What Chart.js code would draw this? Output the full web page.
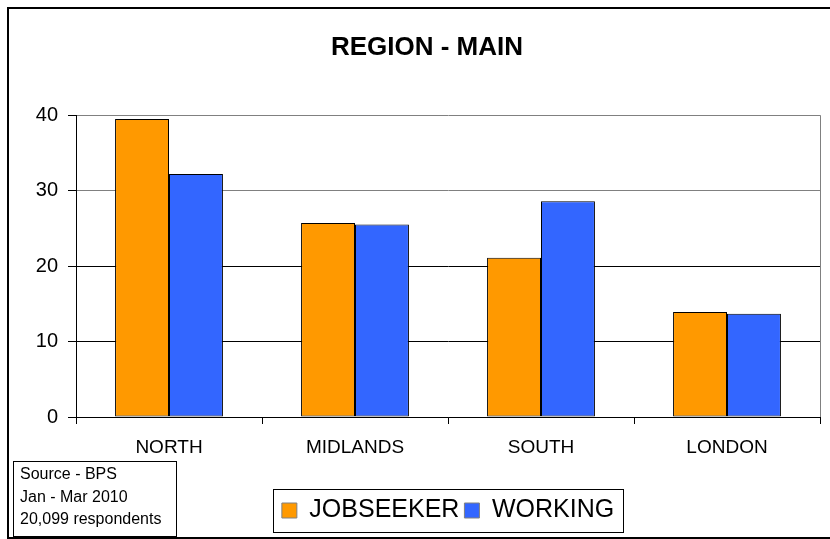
<!DOCTYPE html>
<html>
<head>
<meta charset="utf-8">
<script src="https://cdn.jsdelivr.net/npm/chart.js@4.4.1/dist/chart.umd.min.js"></script>
<style>
  body { margin: 0; background: #fff; overflow: hidden; }
  #wrap { position: relative; width: 830px; height: 539px; }
  #frame { position: absolute; left: 7px; top: 7px; width: 840px; height: 528px; border: 2px solid #000; }
  #chart { position: absolute; left: 0; top: 0; }
  #source { position: absolute; left: 13px; top: 461px; width: 156px; height: 73px; border: 1.5px solid #000;
    font-family: "Liberation Sans", Arial, sans-serif; font-size: 16px; line-height: 22.5px; padding: 1px 0 0 6px; box-sizing: content-box; }
</style>
</head>
<body>
<div id="wrap">
  <div id="frame"></div>
  <canvas id="chart" width="830" height="539"></canvas>
  <div id="source">Source - BPS<br>Jan - Mar 2010<br>20,099 respondents</div>
</div>
<script>
var REGIONS = ['NORTH', 'MIDLANDS', 'SOUTH', 'LONDON'];
var JOBSEEKER = [39.5, 25.7, 21.1, 13.9];
var WORKING = [32.2, 25.5, 28.6, 13.7];
var Y_TICKS = [0, 10, 20, 30, 40];

var FONT = '"Liberation Sans", Arial, sans-serif';

// right edge of plot + box round the legend
var framePlugin = {
	id: 'frames',
	afterDraw: function(chart) {
		var ctx = chart.ctx;
		var area = chart.chartArea;
		ctx.save();
		ctx.strokeStyle = '#808080';
		ctx.lineWidth = 1;
		ctx.beginPath();
		ctx.moveTo(area.right + 0.5, area.top);
		ctx.lineTo(area.right + 0.5, area.bottom);
		ctx.stroke();

		var boxes = chart.legend.legendHitBoxes;
		if (boxes && boxes.length) {
			var first = boxes[0], last = boxes[boxes.length - 1];
			var left = first.left - 9, right = last.left + last.width + 9;
			var top = first.top - 9, bottom = first.top + first.height + 9;
			ctx.strokeStyle = '#000';
			ctx.strokeRect(Math.round(left) + 0.5, Math.round(top) + 0.5, Math.round(right - left), Math.round(bottom - top));
		}
		ctx.restore();
	}
};

function createDataset(label, data, color) {
	return {
		label: label,
		data: data,
		backgroundColor: color,
		borderColor: '#000',
		borderWidth: 1,
		borderSkipped: false,
		categoryPercentage: 0.58,
		barPercentage: 1.0
	};
}

var ctx = document.getElementById('chart').getContext('2d');
var chart = new Chart(ctx, {
	type: 'bar',
	data: {
		labels: REGIONS,
		datasets: [
			createDataset('JOBSEEKER', JOBSEEKER, '#FF9900'),
			createDataset('WORKING', WORKING, '#3366FF')
		]
	},
	options: {
		responsive: false,
		animation: false,
		devicePixelRatio: 1,
		layout: { padding: { left: 34, right: 10, top: 0, bottom: 6 } },
		plugins: {
			title: {
				display: true,
				text: 'REGION - MAIN',
				color: '#000',
				font: { family: FONT, size: 26, weight: 'bold' },
				padding: { top: 32, bottom: 52 }
			},
			legend: {
				position: 'bottom',
				fullSize: false,
				labels: {
					color: '#000',
					font: { family: FONT, size: 25 },
					boxWidth: 15,
					boxHeight: 15,
					padding: 5,
					generateLabels: function(chart) {
						return chart.data.datasets.map(function(ds, i) {
							return {
								text: ds.label,
								fillStyle: ds.backgroundColor,
								strokeStyle: '#808080',
								lineWidth: 1,
								datasetIndex: i
							};
						});
					}
				}
			},
			tooltip: { enabled: false }
		},
		scales: {
			x: {
				border: { color: '#000', width: 1 },
				grid: { drawOnChartArea: false, tickLength: 7, tickColor: '#000', color: '#000' },
				ticks: { color: '#000', padding: 12, font: { family: FONT, size: 19 } },
				afterFit: function(scale) { scale.height = 76; }
			},
			y: {
				min: 0,
				max: 40,
				border: { color: '#000', width: 1 },
				grid: {
					tickLength: 8,
					tickColor: '#000',
					color: function(c) { return c.tick.value >= 30 ? '#808080' : '#000'; }
				},
				afterBuildTicks: function(scale) {
					scale.ticks = Y_TICKS.map(function(v) { return { value: v }; });
				},
				ticks: { color: '#000', padding: 10, font: { family: FONT, size: 20 } },
				afterFit: function(scale) { scale.width = 42; }
			}
		}
	},
	plugins: [framePlugin]
});
</script>
</body>
</html>
